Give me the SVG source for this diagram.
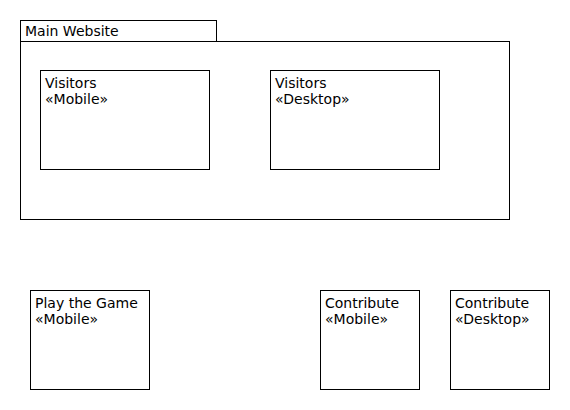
<svg xmlns="http://www.w3.org/2000/svg" width="570" height="410" viewBox="0 0 570 410">
<style>
rect{fill:#fff;stroke:#000;stroke-width:1}
text{font-family:"DejaVu Sans",sans-serif;font-size:14px;fill:#000}
</style>
<rect x="0" y="0" width="570" height="410" style="stroke:none"/>
<g id="main-website">
<rect x="20.5" y="20.5" width="196" height="21"/>
<rect x="20.5" y="41.5" width="489" height="178"/>
<text x="25" y="36">Main Website</text>
</g>
<g id="visitors-mobile">
<rect x="40.5" y="70.5" width="169" height="99"/>
<text x="45" y="88">Visitors</text>
<text x="45" y="104">«Mobile»</text>
</g>
<g id="visitors-desktop">
<rect x="270.5" y="70.5" width="169" height="99"/>
<text x="275" y="88">Visitors</text>
<text x="275" y="104">«Desktop»</text>
</g>
<g id="play-game">
<rect x="30.5" y="290.5" width="119" height="99"/>
<text x="35" y="308">Play the Game</text>
<text x="35" y="324">«Mobile»</text>
</g>
<g id="contribute-mobile">
<rect x="320.5" y="290.5" width="99" height="99"/>
<text x="325" y="308">Contribute</text>
<text x="325" y="324">«Mobile»</text>
</g>
<g id="contribute-desktop">
<rect x="450.5" y="290.5" width="99" height="99"/>
<text x="455" y="308">Contribute</text>
<text x="455" y="324">«Desktop»</text>
</g>
<g id="connectors"></g>
</svg>
